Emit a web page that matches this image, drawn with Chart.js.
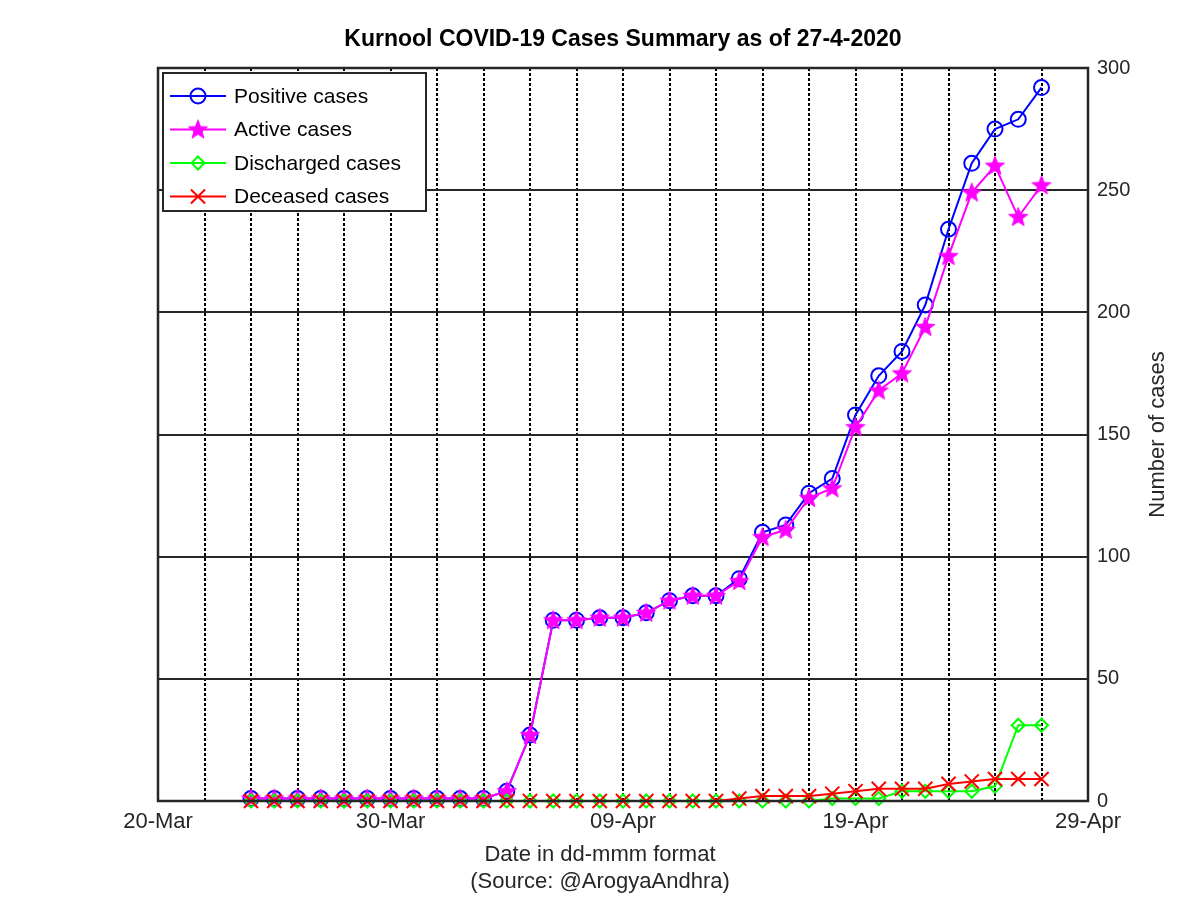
<!DOCTYPE html>
<html>
<head>
<meta charset="utf-8">
<title>Kurnool COVID-19 Cases Summary</title>
<script src="https://cdn.jsdelivr.net/npm/chart.js@4.4.0/dist/chart.umd.min.js"></script>
<style>
  html, body { margin: 0; padding: 0; background: #fff; }
</style>
</head>
<body>
<canvas id="chart" width="1200" height="898"></canvas>
<script>
// Dates of the daily bulletins (2020)
const dates = [
  '24-Mar', '25-Mar', '26-Mar', '27-Mar', '28-Mar', '29-Mar', '30-Mar', '31-Mar',
  '01-Apr', '02-Apr', '03-Apr', '04-Apr', '05-Apr', '06-Apr', '07-Apr', '08-Apr',
  '09-Apr', '10-Apr', '11-Apr', '12-Apr', '13-Apr', '14-Apr', '15-Apr', '16-Apr',
  '17-Apr', '18-Apr', '19-Apr', '20-Apr', '21-Apr', '22-Apr', '23-Apr', '24-Apr',
  '25-Apr', '26-Apr', '27-Apr'
];
const positive = [1, 1, 1, 1, 1, 1, 1, 1, 1, 1, 1, 4, 27, 74, 74, 75, 75, 77, 82, 84, 84, 91,
  110, 113, 126, 132, 158, 174, 184, 203, 234, 261, 275, 279, 292];
const active = [1, 1, 1, 1, 1, 1, 1, 1, 1, 1, 1, 4, 27, 74, 74, 75, 75, 77, 82, 84, 84, 90,
  108, 111, 124, 128, 153, 168, 175, 194, 223, 249, 260, 239, 252];
const discharged = [0, 0, 0, 0, 0, 0, 0, 0, 0, 0, 0, 0, 0, 0, 0, 0, 0, 0, 0, 0, 0, 0,
  0, 0, 0, 1, 1, 1, 4, 4, 4, 4, 6, 31, 31];
const deceased = [0, 0, 0, 0, 0, 0, 0, 0, 0, 0, 0, 0, 0, 0, 0, 0, 0, 0, 0, 0, 0, 1,
  2, 2, 2, 3, 4, 5, 5, 5, 7, 8, 9, 9, 9];

const xTickLabels = ['20-Mar', '30-Mar', '09-Apr', '19-Apr', '29-Apr'];
const yTicks = [0, 50, 100, 150, 200, 250, 300];
const seriesNames = ['Positive cases', 'Active cases', 'Discharged cases', 'Deceased cases'];
const chartTitle = 'Kurnool COVID-19 Cases Summary as of 27-4-2020';
const xTitle = ['Date in dd-mmm format', '(Source: @ArogyaAndhra)'];
const yTitle = 'Number of cases';

// x value = days since 20-Mar-2020
const months = { Mar: 2, Apr: 3 };
const origin = new Date(2020, 2, 20);
const dayOffset = s => {
  const [d, m] = s.split('-');
  return Math.round((new Date(2020, months[m], +d) - origin) / 86400000);
};
const xs = dates.map(dayOffset);
const toPoints = arr => arr.map((v, i) => ({ x: xs[i], y: v }));

const FONT = '"Liberation Sans", Arial, Helvetica, sans-serif';

// MATLAB-like pentagram marker
function makeStar(color) {
  const c = document.createElement('canvas');
  c.width = 22; c.height = 22;
  const g = c.getContext('2d');
  g.beginPath();
  for (let i = 0; i < 10; i++) {
    const r = i % 2 === 0 ? 10 : 4.2;
    const a = -Math.PI / 2 + i * Math.PI / 5;
    const px = 11 + r * Math.cos(a), py = 11.5 + r * Math.sin(a);
    i === 0 ? g.moveTo(px, py) : g.lineTo(px, py);
  }
  g.closePath();
  g.fillStyle = color; g.strokeStyle = color; g.lineWidth = 1;
  g.fill(); g.stroke();
  return c;
}
const star = makeStar('#ff00ff');

const styles = [
  { color: '#0000ff', pointStyle: 'circle', radius: 7.5, order: 4 },
  { color: '#ff00ff', pointStyle: star, radius: 10, order: 3 },
  { color: '#00ff00', pointStyle: 'rectRot', radius: 6.5, order: 2 },
  { color: '#ff0000', pointStyle: 'crossRot', radius: 10, order: 1 }
];
const series = [positive, active, discharged, deceased];

// frame, titles and legend drawn like the MATLAB figure
const decorations = {
  id: 'decorations',
  afterDraw(chart) {
    const { ctx, chartArea: a } = chart;
    ctx.save();
    ctx.strokeStyle = '#262626';
    ctx.lineWidth = 2.5;
    ctx.strokeRect(a.left, a.top, a.right - a.left, a.bottom - a.top);

    ctx.textAlign = 'center';
    ctx.textBaseline = 'middle';
    ctx.fillStyle = '#000';
    ctx.font = 'bold 23px ' + FONT;
    ctx.fillText(chartTitle, (a.left + a.right) / 2, 40);

    ctx.fillStyle = '#262626';
    ctx.font = '22px ' + FONT;
    ctx.fillText(xTitle[0], 600, 855);
    ctx.fillText(xTitle[1], 600, 882);

    ctx.save();
    ctx.translate(1158, (a.top + a.bottom) / 2);
    ctx.rotate(-Math.PI / 2);
    ctx.fillText(yTitle, 0, 0);
    ctx.restore();

    // legend
    ctx.fillStyle = '#fff';
    ctx.fillRect(163, 73, 263, 138);
    ctx.strokeStyle = '#262626';
    ctx.lineWidth = 2;
    ctx.strokeRect(163, 73, 263, 138);
    ctx.textAlign = 'left';
    ctx.font = '21px ' + FONT;
    seriesNames.forEach((name, i) => {
      const y = 96 + i * 33.5;
      const s = styles[i];
      ctx.strokeStyle = s.color;
      ctx.lineWidth = 2;
      ctx.beginPath();
      ctx.moveTo(170, y);
      ctx.lineTo(226, y);
      ctx.stroke();
      ctx.fillStyle = 'rgba(0,0,0,0)';
      Chart.helpers.drawPoint(ctx, { pointStyle: s.pointStyle, radius: s.radius, borderWidth: 2, rotation: 0 }, 198, y);
      ctx.fillStyle = '#000';
      ctx.fillText(name, 234, y + 1);
    });
    ctx.restore();
  }
};

const ctx = document.getElementById('chart').getContext('2d');
new Chart(ctx, {
  type: 'line',
  data: {
    datasets: series.map((arr, i) => ({
      label: seriesNames[i],
      data: toPoints(arr),
      borderColor: styles[i].color,
      borderWidth: 2,
      pointStyle: styles[i].pointStyle,
      pointRadius: styles[i].radius,
      pointBorderWidth: 2,
      pointBorderColor: styles[i].color,
      pointBackgroundColor: 'rgba(0,0,0,0)',
      fill: false,
      tension: 0,
      clip: false,
      order: styles[i].order
    }))
  },
  options: {
    responsive: false,
    animation: false,
    events: [],
    layout: { padding: { left: 158, top: 68, right: 52, bottom: 57 } },
    plugins: {
      legend: { display: false },
      title: { display: false },
      tooltip: { enabled: false }
    },
    scales: {
      x: {
        type: 'linear',
        min: 0,
        max: 40,
        afterFit: s => { s.height = 40; },
        afterBuildTicks: s => { s.ticks = Array.from({ length: 21 }, (_, k) => ({ value: k * 2 })); },
        ticks: {
          autoSkip: false,
          maxRotation: 0,
          padding: 8,
          color: '#262626',
          font: { family: FONT, size: 22 },
          callback: v => (v % 10 === 0 ? xTickLabels[v / 10] : '')
        },
        grid: {
          drawTicks: false,
          lineWidth: 2,
          color: c => (c.tick && (c.tick.value === 0 || c.tick.value === 40)) ? 'rgba(0,0,0,0)' : '#000'
        },
        border: { display: false, dash: [3, 2] }
      },
      y: {
        position: 'right',
        min: 0,
        max: 300,
        afterFit: s => { s.width = 60; },
        afterBuildTicks: s => { s.ticks = yTicks.map(v => ({ value: v })); },
        ticks: {
          padding: 9,
          color: '#262626',
          font: { family: FONT, size: 20 }
        },
        grid: { drawTicks: false, lineWidth: 2, color: '#262626' },
        border: { display: false }
      }
    }
  },
  plugins: [decorations]
});
</script>
</body>
</html>
